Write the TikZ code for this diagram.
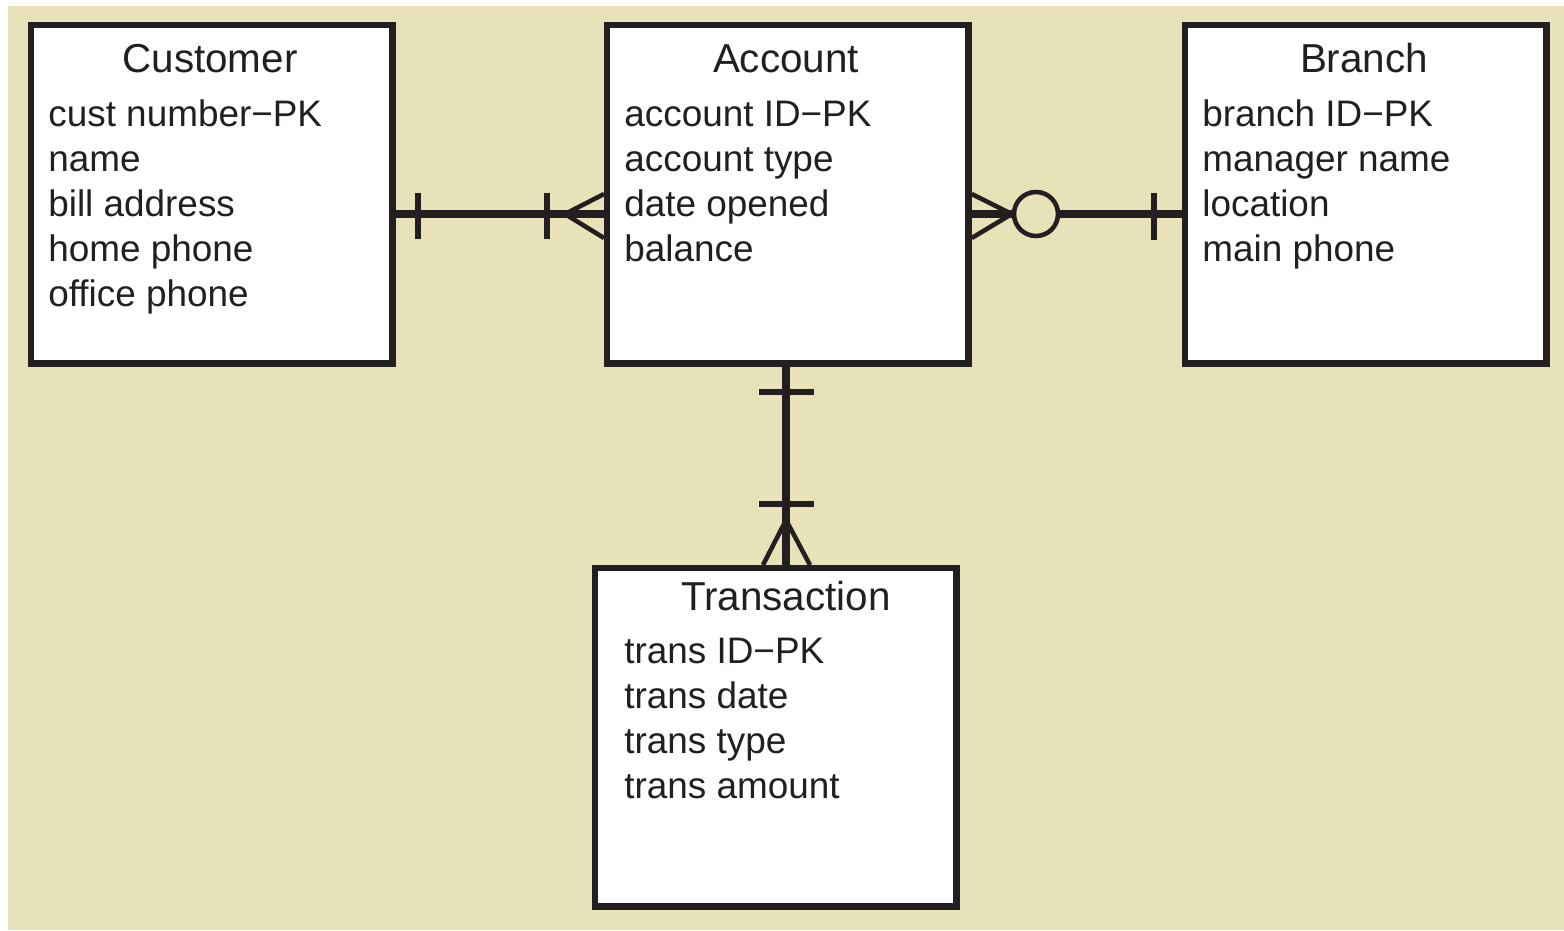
\documentclass[tikz,border=0pt]{standalone}
\usepackage{fontspec}
\setmainfont{Liberation Sans}
\definecolor{bgbeige}{RGB}{232,226,185}
\definecolor{inkdark}{RGB}{35,31,32}
\begin{document}
\begin{tikzpicture}[
  x=0.02cm, y=-0.02cm,
  entity/.style={draw=inkdark, fill=white, line width=3.6pt, anchor=north west, inner sep=0pt,
    minimum width=7.23cm, minimum height=6.77cm},
  title/.style={anchor=base, inner sep=0pt, text=inkdark, font=\fontsize{23}{27}\selectfont},
  attr/.style={anchor=base west, inner sep=0pt, text=inkdark, font=\fontsize{21}{26}\selectfont},
  rel/.style={draw=inkdark, line width=4.2pt},
  foot/.style={draw=inkdark, line width=2.6pt, line join=miter},
  bar/.style={draw=inkdark, line width=3.2pt}
]
\useasboundingbox (0,0) rectangle (1564,930);
\fill[bgbeige] (8,6) rectangle (1564,930);

% entities
\node[entity] (cust) at (28,22) {};
\node[entity] (acct) at (604,22) {};
\node[entity] (branch) at (1182,22) {};
\node[entity] (trans) at (592,565) {};

% titles
\node[title] (cust-t) at (210,72) {Customer};
\node[title] (acct-t) at (786,72) {Account};
\node[title] (branch-t) at (1364,72) {Branch};
\node[title] (trans-t) at (786,610) {Transaction};

% attributes
\foreach \txt [count=\i] in {cust number−PK, name, bill address, home phone, office phone}
  \node[attr] (cust-a\i) at (48,{126+45*(\i-1)}) {\txt};
\foreach \txt [count=\i] in {account ID−PK, account type, date opened, balance}
  \node[attr] (acct-a\i) at (624,{126+45*(\i-1)}) {\txt};
\foreach \txt [count=\i] in {branch ID−PK, manager name, location, main phone}
  \node[attr] (branch-a\i) at (1202,{126+45*(\i-1)}) {\txt};
\foreach \txt [count=\i] in {trans ID−PK, trans date, trans type, trans amount}
  \node[attr] (trans-a\i) at (624,{663+45*(\i-1)}) {\txt};

% customer -- account
\draw[rel] (cust.east |- 0,214) -- (acct.west |- 0,214);
\draw[bar] (418,193) -- (418,239);
\draw[bar] (547,193) -- (547,239);
\draw[foot] (acct.west |- 0,194) -- (565,214) -- (acct.west |- 0,238);

% account -- branch
\node[circle, draw=inkdark, line width=2.6pt, minimum size=0.88cm, inner sep=0pt] (opt) at (1036,214) {};
\draw[foot] (acct.east |- 0,194) -- (opt.west) -- (acct.east |- 0,238);
\draw[rel] (acct.east |- 0,214) -- (opt.west);
\draw[rel] (opt.east) -- (branch.west |- 0,214);
\draw[bar] (1154,193) -- (1154,240);

% account -- transaction
\draw[rel] (acct.south -| 786,0) -- (trans.north -| 786,0);
\draw[bar] (759,392) -- (814,392);
\draw[bar] (759,504) -- (814,504);
\draw[foot] (trans.north -| 763,0) -- (786,520) -- (trans.north -| 810,0);
\end{tikzpicture}
\end{document}
